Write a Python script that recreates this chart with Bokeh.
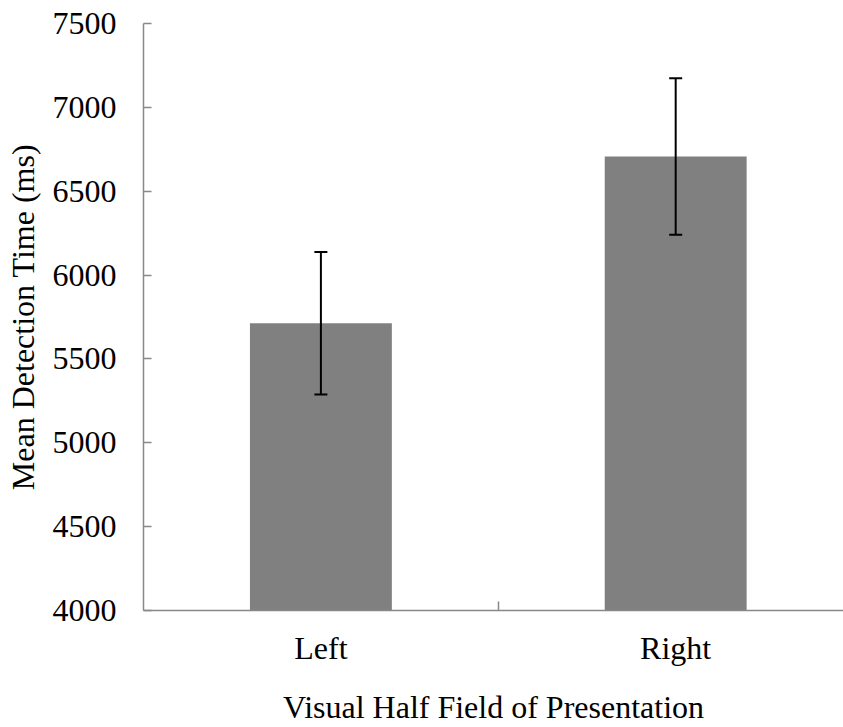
from bokeh.plotting import figure
from bokeh.models import ColumnDataSource, Range1d, FixedTicker, Whisker, TeeHead
from bokeh.embed import file_html
from bokeh.resources import INLINE

categories = ["Left", "Right"]
means = [5713, 6707]
errors = [425, 466]
y_ticks = [4000, 4500, 5000, 5500, 6000, 6500, 7000, 7500]

xs = [i + 0.5 for i in range(len(categories))]
src = ColumnDataSource(dict(
    x=xs,
    top=means,
    upper=[m + e for m, e in zip(means, errors)],
    lower=[m - e for m, e in zip(means, errors)],
))

FONT = "'Liberation Serif', serif"
AXIS_COLOR = "#888888"

p = figure(width=843, height=727, x_range=Range1d(0, 1.973), y_range=Range1d(4000, 7500),
           output_backend="svg", toolbar_location=None,
           min_border_left=143, min_border_right=0, min_border_top=23, min_border_bottom=112)
p.outline_line_color = None
p.grid.visible = False
p.background_fill_color = "white"

p.vbar(x="x", top="top", bottom=0, width=0.4, source=src, fill_color="#808080", line_color=None)

w = Whisker(base="x", upper="upper", lower="lower", source=src, line_color="black", line_width=2,
            level="overlay",
            upper_head=TeeHead(size=13, line_color="black", line_width=2),
            lower_head=TeeHead(size=13, line_color="black", line_width=2))
p.add_layout(w)

# y axis
ya = p.yaxis[0]
ya.ticker = FixedTicker(ticks=y_ticks)
ya.axis_label = "Mean Detection Time (ms)"
ya.major_tick_in = 8
ya.major_tick_out = 0
ya.minor_tick_line_color = None
ya.axis_line_color = AXIS_COLOR
ya.axis_line_width = 1.5
ya.major_tick_line_color = AXIS_COLOR
ya.major_tick_line_width = 1.5
ya.major_label_standoff = 27
ya.axis_label_standoff = 9
ya.major_label_text_font = FONT
ya.major_label_text_font_size = "32px"
ya.major_label_text_color = "black"
ya.axis_label_text_font = FONT
ya.axis_label_text_font_size = "32px"
ya.axis_label_text_font_style = "normal"
ya.axis_label_text_color = "black"

# x axis
xa = p.xaxis[0]
xa.ticker = FixedTicker(ticks=xs, minor_ticks=[1.0])
xa.major_label_overrides = {x: c for x, c in zip(xs, categories)}
xa.axis_label = "Visual Half Field of Presentation"
xa.major_tick_in = 0
xa.major_tick_out = 0
xa.major_tick_line_color = None
xa.minor_tick_in = 9
xa.minor_tick_out = 0
xa.minor_tick_line_color = AXIS_COLOR
xa.minor_tick_line_width = 1.5
xa.axis_line_color = AXIS_COLOR
xa.axis_line_width = 1.5
xa.major_label_standoff = 19
xa.axis_label_standoff = 20
xa.major_label_text_font = FONT
xa.major_label_text_font_size = "32px"
xa.major_label_text_color = "black"
xa.axis_label_text_font = FONT
xa.axis_label_text_font_size = "32px"
xa.axis_label_text_font_style = "normal"
xa.axis_label_text_color = "black"

open("out.html", "w").write(file_html(p, INLINE))
